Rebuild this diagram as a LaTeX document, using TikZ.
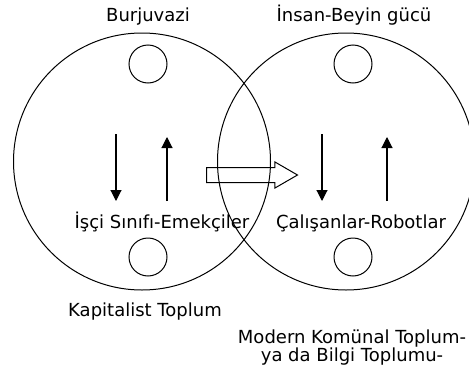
\documentclass[tikz,border=0pt]{standalone}
\usepackage{fontspec}
\setmainfont{DejaVu Sans}
\usetikzlibrary{shapes.arrows,arrows.meta}

\begin{document}
\begin{tikzpicture}[
  x=1pt, y=-1pt,
  society/.style={
    draw, line width=1pt, circle, minimum size=257pt, inner sep=0pt
  },
  dot/.style={
    draw, line width=1pt, circle, minimum size=38pt, inner sep=0pt
  },
  lbl/.style={font=\fontsize{18}{21}\selectfont, anchor=base, inner sep=0pt},
  arr/.style={-{Triangle[width=11pt,length=11pt]}, line width=1.1pt},
  blockarr/.style={
    draw, line width=1pt, single arrow, anchor=tail,
    minimum height=91pt, inner xsep=0pt, inner ysep=7pt,
    single arrow head extend=5.5pt, single arrow tip angle=60
  },
]
\useasboundingbox (0,0) rectangle (469,367);

% the two societies
\node[society] (kap) at (142, 161.5) {};
\node[society] (kom) at (346, 161.5) {};

\node[dot] (kapTop) at (148, 64)  {};
\node[dot] (kapBot) at (148, 257) {};
\node[dot] (komTop) at (353, 64)  {};
\node[dot] (komBot) at (353, 257) {};

\node[lbl] (burj)  at (148, 21)  {Burjuvazi};
\node[lbl] (insan) at (354, 21)  {İnsan-Beyin gücü};
\node[lbl] (isci)  at (162, 228) {İşçi Sınıfı-Emekçiler};
\node[lbl] (calis) at (361, 228) {Çalışanlar-Robotlar};
\node[lbl] (kapT)  at (145, 316) {Kapitalist Toplum};
\node[lbl] (komT)  at (352, 343) {Modern Komünal Toplum-};
\node[lbl] (bilgi) at (352, 361) {ya da Bilgi Toplumu-};

\node[blockarr] (gecis) at (206, 175) {};

\coordinate (a1) at (116, 134);
\coordinate (a2) at (116, 201);
\coordinate (b1) at (167, 201);
\coordinate (b2) at (167, 137);
\coordinate (c1) at (322, 134);
\coordinate (c2) at (322, 201);
\coordinate (d1) at (387, 201);
\coordinate (d2) at (387, 137);

\draw[arr] (a1) -- (a2);
\draw[arr] (b1) -- (b2);
\draw[arr] (c1) -- (c2);
\draw[arr] (d1) -- (d2);

\end{tikzpicture}
\end{document}
